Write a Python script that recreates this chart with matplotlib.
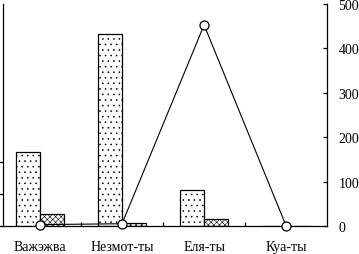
import numpy as np
import matplotlib as mpl
mpl.use('Agg')
mpl.rcParams['font.family'] = ['Liberation Serif', 'DejaVu Serif']
mpl.rcParams['font.size'] = 10
mpl.rcParams['hatch.linewidth'] = 0.4
import matplotlib.pyplot as plt

categories = ['Важэжва', 'Незмот-ты', 'Еля-ты', 'Куа-ты']
bars_light = [231, 600, 112, 0]
bars_dark = [37, 9, 22, 0]
line_values = [3, 5, 453, 0]
right_ticks = [0, 100, 200, 300, 400, 500]

fig = plt.figure(figsize=(3.59, 2.55), dpi=100)
ax = fig.add_axes([0.0084, 0.11, 0.903, 0.87])
x = np.arange(len(categories))
w = 0.29

ax.bar(x - w / 2, bars_light, width=w, color='white', edgecolor='black',
       linewidth=0.9, hatch='...')
ax.bar(x + w / 2, bars_dark, width=w, color='white', edgecolor='black',
       linewidth=0.9, hatch='xxxxxx')

ax.set_xlim(-0.45, 3.5)
ax.set_ylim(0, 694)
ax.set_yticks([0, 100, 200])
ax.set_yticklabels([])
ax.tick_params(axis='y', direction='out', length=3, width=0.9)
ax.set_xticks(x)
ax.set_xticklabels(categories)
ax.set_xticks([0.5, 1.5, 2.5], minor=True)
ax.tick_params(axis='x', which='major', length=0, pad=10)
ax.tick_params(axis='x', which='minor', direction='in', length=3, width=0.9)
for s in ['top', 'right']:
    ax.spines[s].set_visible(False)
for s in ['left', 'bottom']:
    ax.spines[s].set_linewidth(0.9)

ax2 = ax.twinx()
ax2.plot(x, line_values, '-o', color='black', linewidth=0.8, ms=6.5,
         markerfacecolor='white', markeredgecolor='black', markeredgewidth=0.9,
         clip_on=False, zorder=5)
ax2.set_ylim(0, 500)
ax2.set_yticks(right_ticks)
ax2.tick_params(axis='y', direction='in', length=3, width=0.9, pad=8)
for s in ['top', 'left', 'bottom']:
    ax2.spines[s].set_visible(False)
ax2.spines['right'].set_linewidth(0.9)

plt.savefig('out.png', dpi=100)
